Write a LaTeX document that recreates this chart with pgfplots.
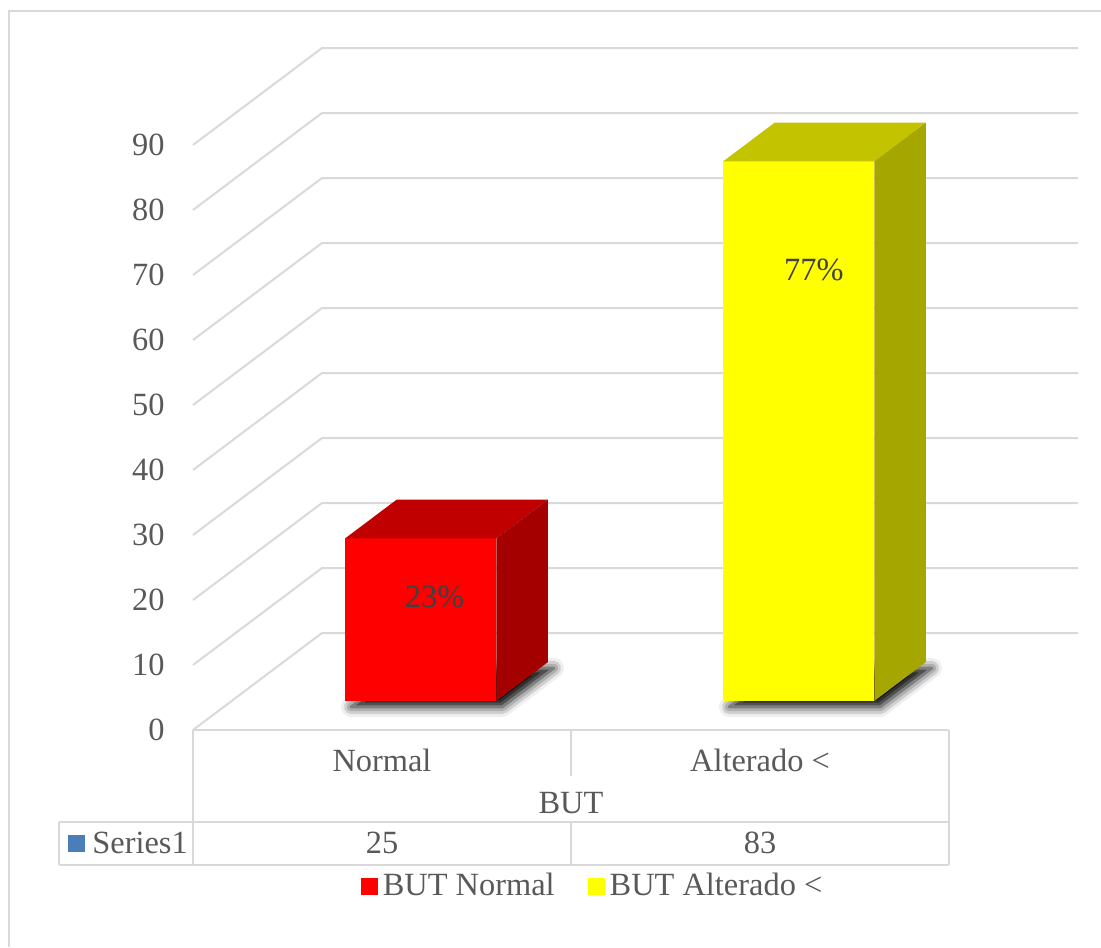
\documentclass[border=0pt]{standalone}
\usepackage{pgfplots}
\pgfplotsset{compat=1.18}
\usepackage{fontspec}
\setmainfont{Liberation Serif}
\usetikzlibrary{shadows.blur}

\definecolor{gridgray}{HTML}{D9D9D9}
\definecolor{txt}{HTML}{595959}
\definecolor{lbl}{HTML}{404040}
\definecolor{redFront}{HTML}{FF0000}
\definecolor{redTop}{HTML}{C00000}
\definecolor{redSide}{HTML}{A40000}
\definecolor{yelFront}{HTML}{FFFF00}
\definecolor{yelTop}{HTML}{C3C300}
\definecolor{yelSide}{HTML}{A6A600}
\definecolor{serblue}{HTML}{4A7EBB}

\newcommand{\chartfont}{\fontsize{16.2}{19}\selectfont}

\begin{document}
\chartfont
\begin{tikzpicture}
% page frame, data table and anchor points (units of half a point, y downwards)
\begin{scope}[x=0.5pt,y=-0.5pt]
  \useasboundingbox (0,0) rectangle (1101,947);
  \draw[gridgray, line width=1.4pt] (1101,11) -- (9,11) -- (9,947);
  \coordinate (floororigin) at (193,730);
  % data table
  \begin{scope}[gridgray, line width=1pt]
    \draw (193,730) -- (949,730);
    \draw (193,730) -- (193,865);
    \draw (949,730) -- (949,865);
    \draw (571,730) -- (571,776);
    \draw (59,822) -- (949,822);
    \draw (59,865) -- (949,865);
    \draw (59,822) -- (59,865);
    \draw (571,822) -- (571,865);
  \end{scope}
  \begin{scope}[text=txt]
    \node at (382,760) {Normal};
    \node at (760,760) {Alterado <};
    \node at (571,803) {BUT};
    \node at (382,843) {25};
    \node at (760,843) {83};
    \fill[serblue] (68,835) rectangle (85,852);
    \node[anchor=west, inner sep=0pt] at (92,843) {Series1};
  \end{scope}
\end{scope}

\begin{axis}[
  at={(floororigin)}, anchor=origin,
  x={(189pt,0pt)}, y={(64.5pt,48.5pt)}, z={(0pt,3.25pt)},
  xmin=0, xmax=2, ymin=0, ymax=1, zmin=0, zmax=90,
  hide axis, clip=false,
  legend image code/.code={\fill[#1] (0pt,-4.25pt) rectangle (8.5pt,4.25pt);},
  legend style={draw=none, fill=none, at={(axis cs:1.061,0,-24.15)}, anchor=center,
    font=\chartfont, text=txt, legend columns=2,
    /tikz/every even column/.append style={column sep=14pt},
    nodes={inner sep=2.5pt}},
]
% back wall and side wall gridlines
\pgfplotsinvokeforeach{0,10,...,90}{
  \addplot3[gridgray, line width=1pt, forget plot]
    coordinates {(0,0,#1) (0,1,#1) (2,1,#1)};
  \node[text=txt, anchor=east, inner sep=0pt, xshift=-14pt] at (axis cs:0,0,#1) {#1};
}

% soft shadows under the bars
\path[blur shadow={shadow xshift=3pt, shadow yshift=-3pt, shadow blur radius=5pt, shadow opacity=100}]
  (axis cs:0.3,0.3,0) -- (axis cs:0.7,0.3,0) -- (axis cs:0.7,0.7,0) -- (axis cs:0.3,0.7,0) -- cycle;
\path[blur shadow={shadow xshift=3pt, shadow yshift=-3pt, shadow blur radius=5pt, shadow opacity=100}]
  (axis cs:1.3,0.3,0) -- (axis cs:1.7,0.3,0) -- (axis cs:1.7,0.7,0) -- (axis cs:1.3,0.7,0) -- cycle;

% BUT Normal: 25
\addplot3[fill=redFront, draw=none]
  coordinates {(0.3,0.3,0) (0.7,0.3,0) (0.7,0.3,25) (0.3,0.3,25)};
\addlegendentry{BUT Normal}
\addplot3[fill=redTop, draw=none, forget plot]
  coordinates {(0.3,0.3,25) (0.7,0.3,25) (0.7,0.7,25) (0.3,0.7,25)};
\addplot3[fill=redSide, draw=none, forget plot]
  coordinates {(0.7,0.3,0) (0.7,0.7,0) (0.7,0.7,25) (0.7,0.3,25)};

% BUT Alterado <: 83
\addplot3[fill=yelFront, draw=none]
  coordinates {(1.3,0.3,0) (1.7,0.3,0) (1.7,0.3,83) (1.3,0.3,83)};
\addlegendentry{BUT Alterado <}
\addplot3[fill=yelTop, draw=none, forget plot]
  coordinates {(1.3,0.3,83) (1.7,0.3,83) (1.7,0.7,83) (1.3,0.7,83)};
\addplot3[fill=yelSide, draw=none, forget plot]
  coordinates {(1.7,0.3,0) (1.7,0.7,0) (1.7,0.7,83) (1.7,0.3,83)};

% percentage labels
\node[text=lbl] at (axis cs:0.537,0.3,16) {23\%};
\node[text=lbl] at (axis cs:1.54,0.3,66.3) {77\%};
\end{axis}
\end{tikzpicture}
\end{document}
